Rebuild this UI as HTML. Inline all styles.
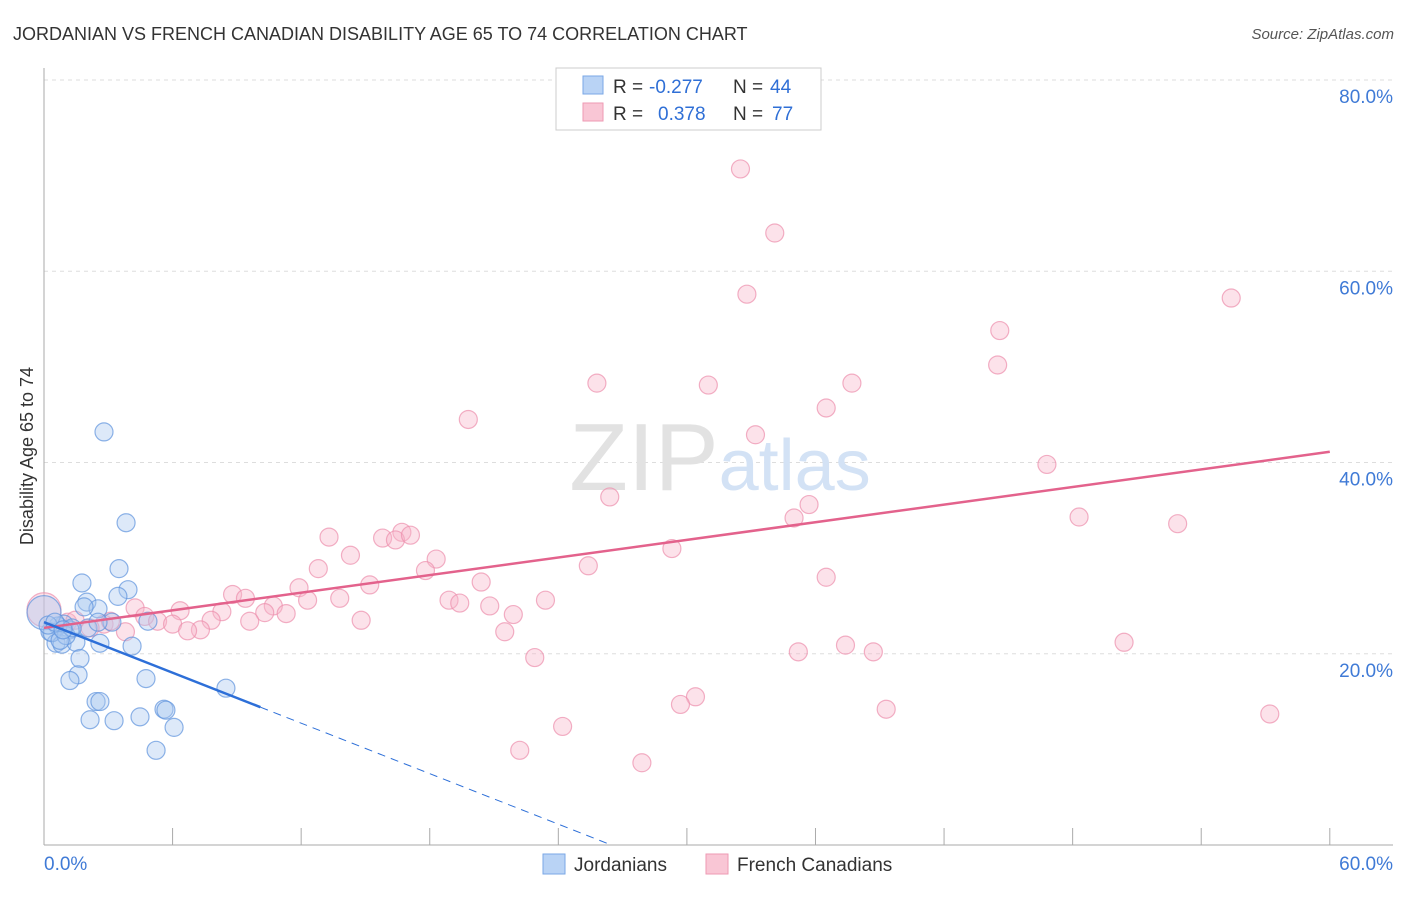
<!DOCTYPE html>
<html><head><meta charset="utf-8"><style>
body{margin:0;background:#fff;font-family:"Liberation Sans",sans-serif}
svg text{font-family:"Liberation Sans",sans-serif}
</style></head><body>
<svg id="chart" width="1406" height="892" xmlns="http://www.w3.org/2000/svg">
<text x="13" y="40" font-size="18" fill="#333">JORDANIAN VS FRENCH CANADIAN DISABILITY AGE 65 TO 74 CORRELATION CHART</text>
<text x="1394" y="39" font-size="15" fill="#555" text-anchor="end" font-style="italic">Source: ZipAtlas.com</text>
<g id="grid"></g>
<text x="720" y="490" font-size="96" text-anchor="middle" font-family="Liberation Serif"><tspan fill="#e2e2e2">ZIP</tspan><tspan fill="#d3e2f5" font-family="Liberation Sans" font-size="72">atlas</tspan></text>
<g id="axes"></g>
<g id="pts"></g>
<g id="lines"></g>
<text transform="translate(33,456) rotate(-90)" font-size="18" fill="#333" text-anchor="middle">Disability Age 65 to 74</text>
<g>
<rect x="556" y="68" width="265" height="62" fill="#fff" stroke="#ccc"/>
<rect x="583" y="76" width="20" height="18" fill="#b9d3f5" stroke="#7aa7e6"/>
<rect x="583" y="103" width="20" height="18" fill="#f9c6d5" stroke="#ee9ab3"/>
<text x="613" y="93" font-size="19" fill="#333">R =</text>
<text x="649" y="93" font-size="19" fill="#2f6fd6">-0.277</text>
<text x="733" y="93" font-size="19" fill="#333">N =</text>
<text x="770" y="93" font-size="19" fill="#2f6fd6">44</text>
<text x="613" y="120" font-size="19" fill="#333">R =</text>
<text x="658" y="120" font-size="19" fill="#2f6fd6">0.378</text>
<text x="733" y="120" font-size="19" fill="#333">N =</text>
<text x="772" y="120" font-size="19" fill="#2f6fd6">77</text>
</g>
<g>
<rect x="543" y="854" width="22" height="20" fill="#b9d3f5" stroke="#7aa7e6"/>
<text x="574" y="871" font-size="19" fill="#333">Jordanians</text>
<rect x="706" y="854" width="22" height="20" fill="#f9c6d5" stroke="#ee9ab3"/>
<text x="737" y="871" font-size="19" fill="#333">French Canadians</text>
</g>
</svg>
<script>
const yTicks=[20,40,60,80];
const yTickLabels=["20.0%","40.0%","60.0%","80.0%"];
const xTickLabels=["0.0%","60.0%"];
const blueX=[2.8,3.83,3.5,1.77,3.92,3.45,2.0,2.52,1.87,4.85,3.17,2.05,0.93,1.21,0.65,0.28,2.52,0.56,0.84,1.49,2.61,4.11,1.68,1.59,1.21,8.49,4.76,2.43,2.61,5.6,5.69,2.15,3.27,4.48,6.07,5.23,0,0.37,1.03,0.75,1.31,0.19,0.51,0.89];
const blueY=[43.2,33.7,28.9,27.4,26.7,26.0,25.4,24.7,24.9,23.4,23.3,22.7,23.1,22.5,22.9,22.3,23.3,21.1,21.0,21.2,21.1,20.8,19.5,17.8,17.2,16.4,17.4,15.0,15.0,14.2,14.1,13.1,13.0,13.4,12.3,9.9,24.3,22.2,21.9,21.4,22.7,23.0,23.3,22.5];
const pinkX=[32.5,34.1,32.8,55.4,44.6,44.5,25.8,31.0,37.7,19.8,36.5,33.2,46.8,26.4,35.7,35.0,48.3,52.9,16.7,13.3,15.8,16.4,17.1,29.3,14.3,18.3,25.4,12.8,17.8,20.4,15.2,11.9,8.8,9.4,13.8,12.3,18.9,19.4,23.4,20.8,10.7,6.35,4.25,10.3,11.3,8.3,4.7,21.9,5.3,6.0,7.8,7.3,6.7,9.6,14.8,2.8,1.1,3.8,21.5,36.5,35.2,37.4,38.7,50.4,22.9,30.4,29.7,39.3,57.2,24.2,22.2,27.9,0,2.15,3.1,1.45];
const pinkY=[70.7,64.0,57.6,57.2,53.8,50.2,48.3,48.1,48.3,44.5,45.7,42.9,39.8,36.4,35.6,34.2,34.3,33.6,32.7,32.2,32.1,31.9,32.4,31.0,30.3,29.9,29.2,28.9,28.7,27.5,27.2,26.9,26.2,25.8,25.8,25.6,25.6,25.3,25.6,25.0,25.0,24.5,24.8,24.3,24.2,24.4,23.9,24.1,23.4,23.1,23.5,22.5,22.4,23.4,23.5,23.1,23.3,22.3,22.3,28.0,20.2,20.9,20.2,21.2,19.6,15.5,14.7,14.2,13.7,12.4,9.9,8.6,24.6,22.7,23.4,23.5];
const blueTrend=[23.3,-0.88];
const pinkTrend=[22.7,0.307];
const NS="http://www.w3.org/2000/svg";
const X=v=>44+v*21.43, Y=v=>845-v*9.5625;
function mk(tag,attrs,parent){const e=document.createElementNS(NS,tag);for(const k in attrs)e.setAttribute(k,attrs[k]);document.getElementById(parent).appendChild(e);return e;}
yTicks.forEach((t,i)=>{
  const g=mk('line',{x1:44,x2:1393,y1:Y(t),y2:Y(t),stroke:'#ddd','stroke-dasharray':'4,4'},'grid');
  
  
  const l=mk('text',{x:1393,y:Y(t)+23,'font-size':19,fill:'#3f7ad6','text-anchor':'end'},'axes');
  l.textContent=yTickLabels[i];
  
  
});
mk('line',{x1:44,x2:44,y1:68,y2:845,stroke:'#aaa'},'axes');
mk('line',{x1:44,x2:1393,y1:845,y2:845,stroke:'#aaa'},'axes');
for(let i=0;i<=10;i++){
  const t=mk('line',{x1:X(i*6),x2:X(i*6),y1:828,y2:845,stroke:'#aaa'},'axes');
  
  
}
const xl0=mk('text',{x:44,y:870,'font-size':19,fill:'#3f7ad6'},'axes');xl0.textContent=xTickLabels[0];


const xl1=mk('text',{x:1393,y:870,'font-size':19,fill:'#3f7ad6','text-anchor':'end'},'axes');xl1.textContent=xTickLabels[1];


function dots(xs,ys,fill,stroke,name){xs.forEach((x,i)=>{
  const r=(x===0)?17:9;
  const c=mk('circle',{cx:X(x),cy:Y(ys[i]),r:r,fill:fill,'fill-opacity':0.4,stroke:stroke,'stroke-opacity':0.7,'stroke-width':1.2},'pts');
  
  
});}
dots(pinkX,pinkY,'#f7b6ca','#ec8fac','french-canadian-point');
dots(blueX,blueY,'#a9c8f0','#5e93dd','jordanian-point');
const pl=mk('line',{x1:X(0),y1:Y(pinkTrend[0]),x2:X(60),y2:Y(pinkTrend[0]+60*pinkTrend[1]),stroke:'#e3628c','stroke-width':2.5},'lines');


const bx=10.1;
const bl=mk('line',{x1:X(0),y1:Y(blueTrend[0]),x2:X(bx),y2:Y(blueTrend[0]+bx*blueTrend[1]),stroke:'#2d6fd8','stroke-width':2.5},'lines');


const x0=-blueTrend[0]/blueTrend[1];
const bd=mk('line',{x1:X(bx),y1:Y(blueTrend[0]+bx*blueTrend[1]),x2:X(x0),y2:Y(0),stroke:'#2d6fd8','stroke-width':1,'stroke-dasharray':'8,6'},'lines');


</script>
</body></html>
